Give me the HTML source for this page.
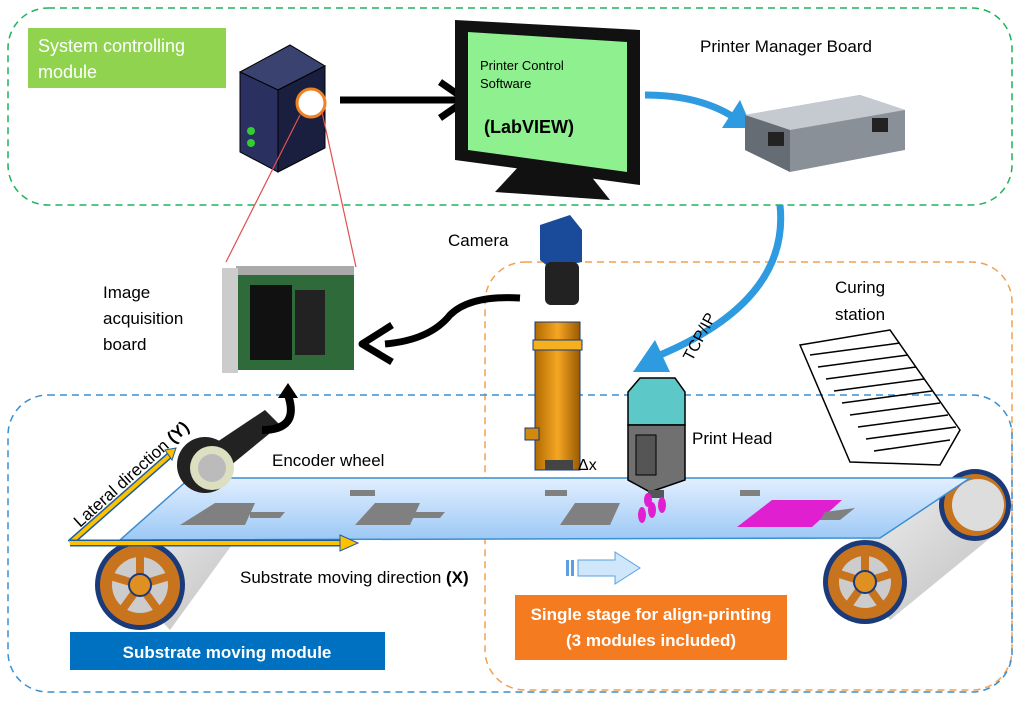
<!DOCTYPE html>
<html><head><meta charset="utf-8"><style>
body{margin:0;background:#fff}
svg{display:block;font-family:"Liberation Sans",sans-serif}
</style></head><body>
<svg width="1024" height="702" viewBox="0 0 1024 702" xmlns="http://www.w3.org/2000/svg">
<defs>
<linearGradient id="belt" x1="0" y1="0" x2="0" y2="1"><stop offset="0" stop-color="#e2efff"/><stop offset="1" stop-color="#9cc8f5"/></linearGradient>
<linearGradient id="lens" x1="0" y1="0" x2="1" y2="0"><stop offset="0" stop-color="#b06a00"/><stop offset="0.5" stop-color="#f5a623"/><stop offset="1" stop-color="#9a5a00"/></linearGradient>
<linearGradient id="cyl" x1="0" y1="0" x2="1" y2="1"><stop offset="0" stop-color="#f4f4f4"/><stop offset="1" stop-color="#bdbdbd"/></linearGradient>
</defs>
<!-- dashed containers -->
<rect x="8" y="8" width="1004" height="197" rx="40" fill="none" stroke="#1db35a" stroke-width="1.5" stroke-dasharray="7,5"/>
<rect x="485" y="262" width="527" height="428" rx="40" fill="none" stroke="#f2a050" stroke-width="1.5" stroke-dasharray="7,5"/>
<rect x="8" y="395" width="1004" height="297" rx="40" fill="none" stroke="#3a8fd0" stroke-width="1.5" stroke-dasharray="7,5"/>
<!-- green label -->
<rect x="28" y="28" width="198" height="60" fill="#8fd34f"/>
<text x="38" y="52" font-size="18" fill="#fff">System controlling</text>
<text x="38" y="78" font-size="18" fill="#fff">module</text>
<!-- server -->
<path d="M240,72 L290,45 L325,66 L278,90z" fill="#3a4270" stroke="#000"/>
<path d="M240,72 L278,90 L278,172 L240,152z" fill="#2a3160" stroke="#000"/>
<path d="M278,90 L325,66 L325,148 L278,172z" fill="#1a1f40" stroke="#000"/>
<circle cx="251" cy="131" r="4" fill="#3c3"/><circle cx="251" cy="143" r="4" fill="#3c3"/>
<circle cx="311" cy="103" r="14" fill="#fff" stroke="#f08020" stroke-width="3"/>
<line x1="300" y1="115" x2="226" y2="262" stroke="#e05050" stroke-width="1.2"/>
<line x1="322" y1="112" x2="356" y2="267" stroke="#e05050" stroke-width="1.2"/>
<!-- black arrow -->
<line x1="340" y1="100" x2="465" y2="100" stroke="#000" stroke-width="7"/>
<path d="M440,82 L466,100 L440,118" fill="none" stroke="#000" stroke-width="7" stroke-linejoin="round"/>
<!-- monitor -->
<path d="M455,20 L640,30 L640,185 L455,160z" fill="#111"/>
<path d="M468,32 L627,42 L627,172 L468,150z" fill="#8ef08e"/>
<path d="M520,165 L590,175 L610,200 L495,192z" fill="#111"/>
<text x="480" y="70" font-size="13">Printer Control</text>
<text x="480" y="88" font-size="13">Software</text>
<text x="484" y="133" font-size="18" font-weight="bold">(LabVIEW)</text>
<!-- blue arrow to board -->
<path d="M645,95 Q700,95 735,118" fill="none" stroke="#2e9be0" stroke-width="7"/>
<path d="M722,128 L752,128 L740,100z" fill="#2e9be0"/>
<text x="700" y="52" font-size="17">Printer Manager Board</text>
<!-- board device -->
<path d="M745,115 L860,95 L905,110 L905,150 L790,172 L745,150z" fill="#8a9098"/>
<path d="M745,115 L860,95 L905,110 L790,130z" fill="#c5cad0"/>
<path d="M745,115 L790,130 L790,172 L745,150z" fill="#666c74"/>
<rect x="768" y="132" width="16" height="14" fill="#222"/><rect x="872" y="118" width="16" height="14" fill="#222"/>
<!-- blue arrow TCP/IP -->
<path d="M780,205 Q790,300 660,355" fill="none" stroke="#2e9be0" stroke-width="7"/>
<path d="M633,372 L670,372 L655,340z" fill="#2e9be0"/>
<text x="0" y="0" font-size="16" transform="translate(692,362) rotate(-62)">TCP/IP</text>
<!-- camera -->
<text x="448" y="246" font-size="17">Camera</text>
<path d="M540,225 L570,215 L582,230 L582,262 L550,268 L540,260z" fill="#1a4a9a"/>
<rect x="545" y="262" width="34" height="43" rx="6" fill="#222"/>
<!-- lens -->
<rect x="535" y="322" width="45" height="148" fill="url(#lens)" stroke="#1a3a7a"/>
<rect x="533" y="340" width="49" height="10" fill="#f5b020" stroke="#1a3a7a"/>
<rect x="525" y="428" width="14" height="12" fill="#d08a10" stroke="#1a3a7a"/>
<rect x="545" y="460" width="28" height="10" fill="#444"/>
<text x="578" y="470" font-size="16">Δx</text>
<!-- image acquisition board -->
<text x="103" y="298" font-size="17">Image</text>
<text x="103" y="324" font-size="17">acquisition</text>
<text x="103" y="350" font-size="17">board</text>
<rect x="236" y="266" width="118" height="12" fill="#aaa"/>
<rect x="236" y="275" width="118" height="95" fill="#2f6b3a"/>
<rect x="250" y="285" width="42" height="75" fill="#111"/><rect x="295" y="290" width="30" height="65" fill="#222"/>
<rect x="222" y="268" width="16" height="105" fill="#ccc"/>
<!-- black curve to board -->
<path d="M520,298 Q470,295 450,315 Q430,340 385,344" fill="none" stroke="#000" stroke-width="7"/>
<path d="M392,325 L362,344 L392,362" fill="none" stroke="#000" stroke-width="7" stroke-linejoin="round"/>
<!-- left roller (behind) -->
<path d="M110,565 L215,500 L250,520 L170,630z" fill="url(#cyl)"/>
<!-- right roller cylinder -->
<path d="M838,555 L950,480 L1000,530 L890,620z" fill="url(#cyl)"/>
<circle cx="975" cy="505" r="36" fill="#1a3a7a"/><circle cx="975" cy="505" r="31" fill="#c8741e"/><circle cx="978" cy="505" r="26" fill="#ddd"/>
<!-- belt -->
<path d="M120,540 L190,478 L970,478 L880,538 Z" fill="url(#belt)" stroke="#3a8fd0" stroke-width="1.5"/>
<!-- grey shapes -->
<path d="M215,503 L255,503 L245,525 L180,525z" fill="#808080"/><path d="M250,512 L285,512 L280,518 L250,518z" fill="#808080"/>
<path d="M375,503 L420,503 L410,525 L355,525z" fill="#808080"/><path d="M410,512 L445,512 L440,518 L410,518z" fill="#808080"/>
<path d="M575,503 L620,503 L610,525 L560,525z" fill="#808080"/>
<rect x="350" y="490" width="25" height="6" fill="#808080"/><rect x="545" y="490" width="22" height="6" fill="#808080"/><rect x="740" y="490" width="20" height="6" fill="#808080"/>
<path d="M772,500 L842,500 L812,527 L737,527z" fill="#e020d0"/><path d="M825,512 L855,508 L840,520 L820,520z" fill="#808080"/>
<!-- front wheels -->
<circle cx="865" cy="582" r="42" fill="#1a3a7a"/><circle cx="865" cy="582" r="37" fill="#c8741e"/><circle cx="865" cy="582" r="26" fill="#ccc"/>
<g stroke="#c8741e" stroke-width="8"><line x1="865" y1="582" x2="865" y2="548"/><line x1="865" y1="582" x2="897" y2="572"/><line x1="865" y1="582" x2="885" y2="610"/><line x1="865" y1="582" x2="845" y2="610"/><line x1="865" y1="582" x2="833" y2="572"/></g>
<circle cx="865" cy="582" r="11" fill="#e09020" stroke="#1a3a7a" stroke-width="2"/>
<circle cx="140" cy="585" r="45" fill="#1a3a7a"/><circle cx="140" cy="585" r="40" fill="#c8741e"/><circle cx="140" cy="585" r="28" fill="#ccc"/>
<g stroke="#c8741e" stroke-width="8"><line x1="140" y1="585" x2="140" y2="550"/><line x1="140" y1="585" x2="173" y2="575"/><line x1="140" y1="585" x2="160" y2="613"/><line x1="140" y1="585" x2="120" y2="613"/><line x1="140" y1="585" x2="107" y2="575"/></g>
<circle cx="140" cy="585" r="11" fill="#e09020" stroke="#1a3a7a" stroke-width="2"/>
<!-- yellow arrows -->
<path d="M70,543 L170,455" stroke="#1a5fa0" stroke-width="7"/><path d="M70,543 L170,455" stroke="#ffc000" stroke-width="4"/>
<path d="M70,543 L345,543" stroke="#1a5fa0" stroke-width="7"/><path d="M70,543 L345,543" stroke="#ffc000" stroke-width="4"/>
<path d="M340,535 L358,543 L340,551z" fill="#ffc000" stroke="#1a5fa0"/>
<path d="M165,450 L176,448 L172,460z" fill="#ffc000" stroke="#1a5fa0"/>
<text font-size="17" transform="translate(80,528) rotate(-42)">Lateral direction <tspan font-weight="bold">(Y)</tspan></text>
<!-- encoder wheel -->
<path d="M205,450 L265,410 L280,425 L225,470z" fill="#222"/>
<circle cx="205" cy="465" r="28" fill="#222"/><circle cx="212" cy="468" r="22" fill="#dde0c0"/><circle cx="212" cy="468" r="14" fill="#bbb"/>
<path d="M262,430 Q300,430 288,395" fill="none" stroke="#000" stroke-width="8"/><path d="M278,398 L288,383 L298,398z" fill="#000"/>
<text x="272" y="466" font-size="17">Encoder wheel</text>
<text x="240" y="583" font-size="17">Substrate moving direction <tspan font-weight="bold">(X)</tspan></text>
<!-- hollow blue arrow -->
<path d="M578,560 L615,560 L615,552 L640,568 L615,584 L615,576 L578,576z" fill="#cfe6fb" stroke="#5aa0e0"/>
<rect x="566" y="560" width="3" height="16" fill="#5aa0e0"/><rect x="571" y="560" width="3" height="16" fill="#5aa0e0"/>
<!-- print head -->
<path d="M640,378 L675,378 L685,392 L685,425 L628,425 L628,392z" fill="#5cc8c8" stroke="#000" stroke-width="1.5"/>
<path d="M628,425 L685,425 L685,480 L650,492 L628,480z" fill="#707070" stroke="#000" stroke-width="1.5"/>
<rect x="636" y="435" width="20" height="40" fill="#555" stroke="#000"/>
<rect x="648" y="490" width="16" height="8" fill="#555"/>
<ellipse cx="642" cy="515" rx="4" ry="8" fill="#e020d0"/><ellipse cx="652" cy="510" rx="4" ry="8" fill="#e020d0"/><ellipse cx="662" cy="505" rx="4" ry="8" fill="#e020d0"/><ellipse cx="648" cy="500" rx="4" ry="7" fill="#e020d0"/>
<text x="692" y="444" font-size="17">Print Head</text>
<!-- curing station -->
<text x="835" y="293" font-size="17">Curing</text>
<text x="835" y="320" font-size="17">station</text>
<g stroke="#000" stroke-width="1.5" fill="none">
<path d="M800,345 L890,330 L960,430 L940,465 L850,462 Z"/>
<path d="M810,355 L900,343"/><path d="M818,367 L908,355"/><path d="M826,379 L916,367"/><path d="M834,391 L924,379"/><path d="M842,403 L932,391"/><path d="M850,415 L940,403"/><path d="M858,427 L948,415"/><path d="M866,439 L956,427"/><path d="M874,451 L950,440"/>
</g>
<!-- labels -->
<rect x="515" y="595" width="272" height="65" fill="#f47b20"/>
<text x="651" y="620" font-size="17" font-weight="bold" fill="#fff" text-anchor="middle">Single stage for align-printing</text>
<text x="651" y="646" font-size="17" font-weight="bold" fill="#fff" text-anchor="middle">(3 modules included)</text>
<rect x="70" y="632" width="315" height="38" fill="#0070c0"/>
<text x="227" y="658" font-size="17" font-weight="bold" fill="#fff" text-anchor="middle">Substrate moving module</text>
</svg>
</body></html>
